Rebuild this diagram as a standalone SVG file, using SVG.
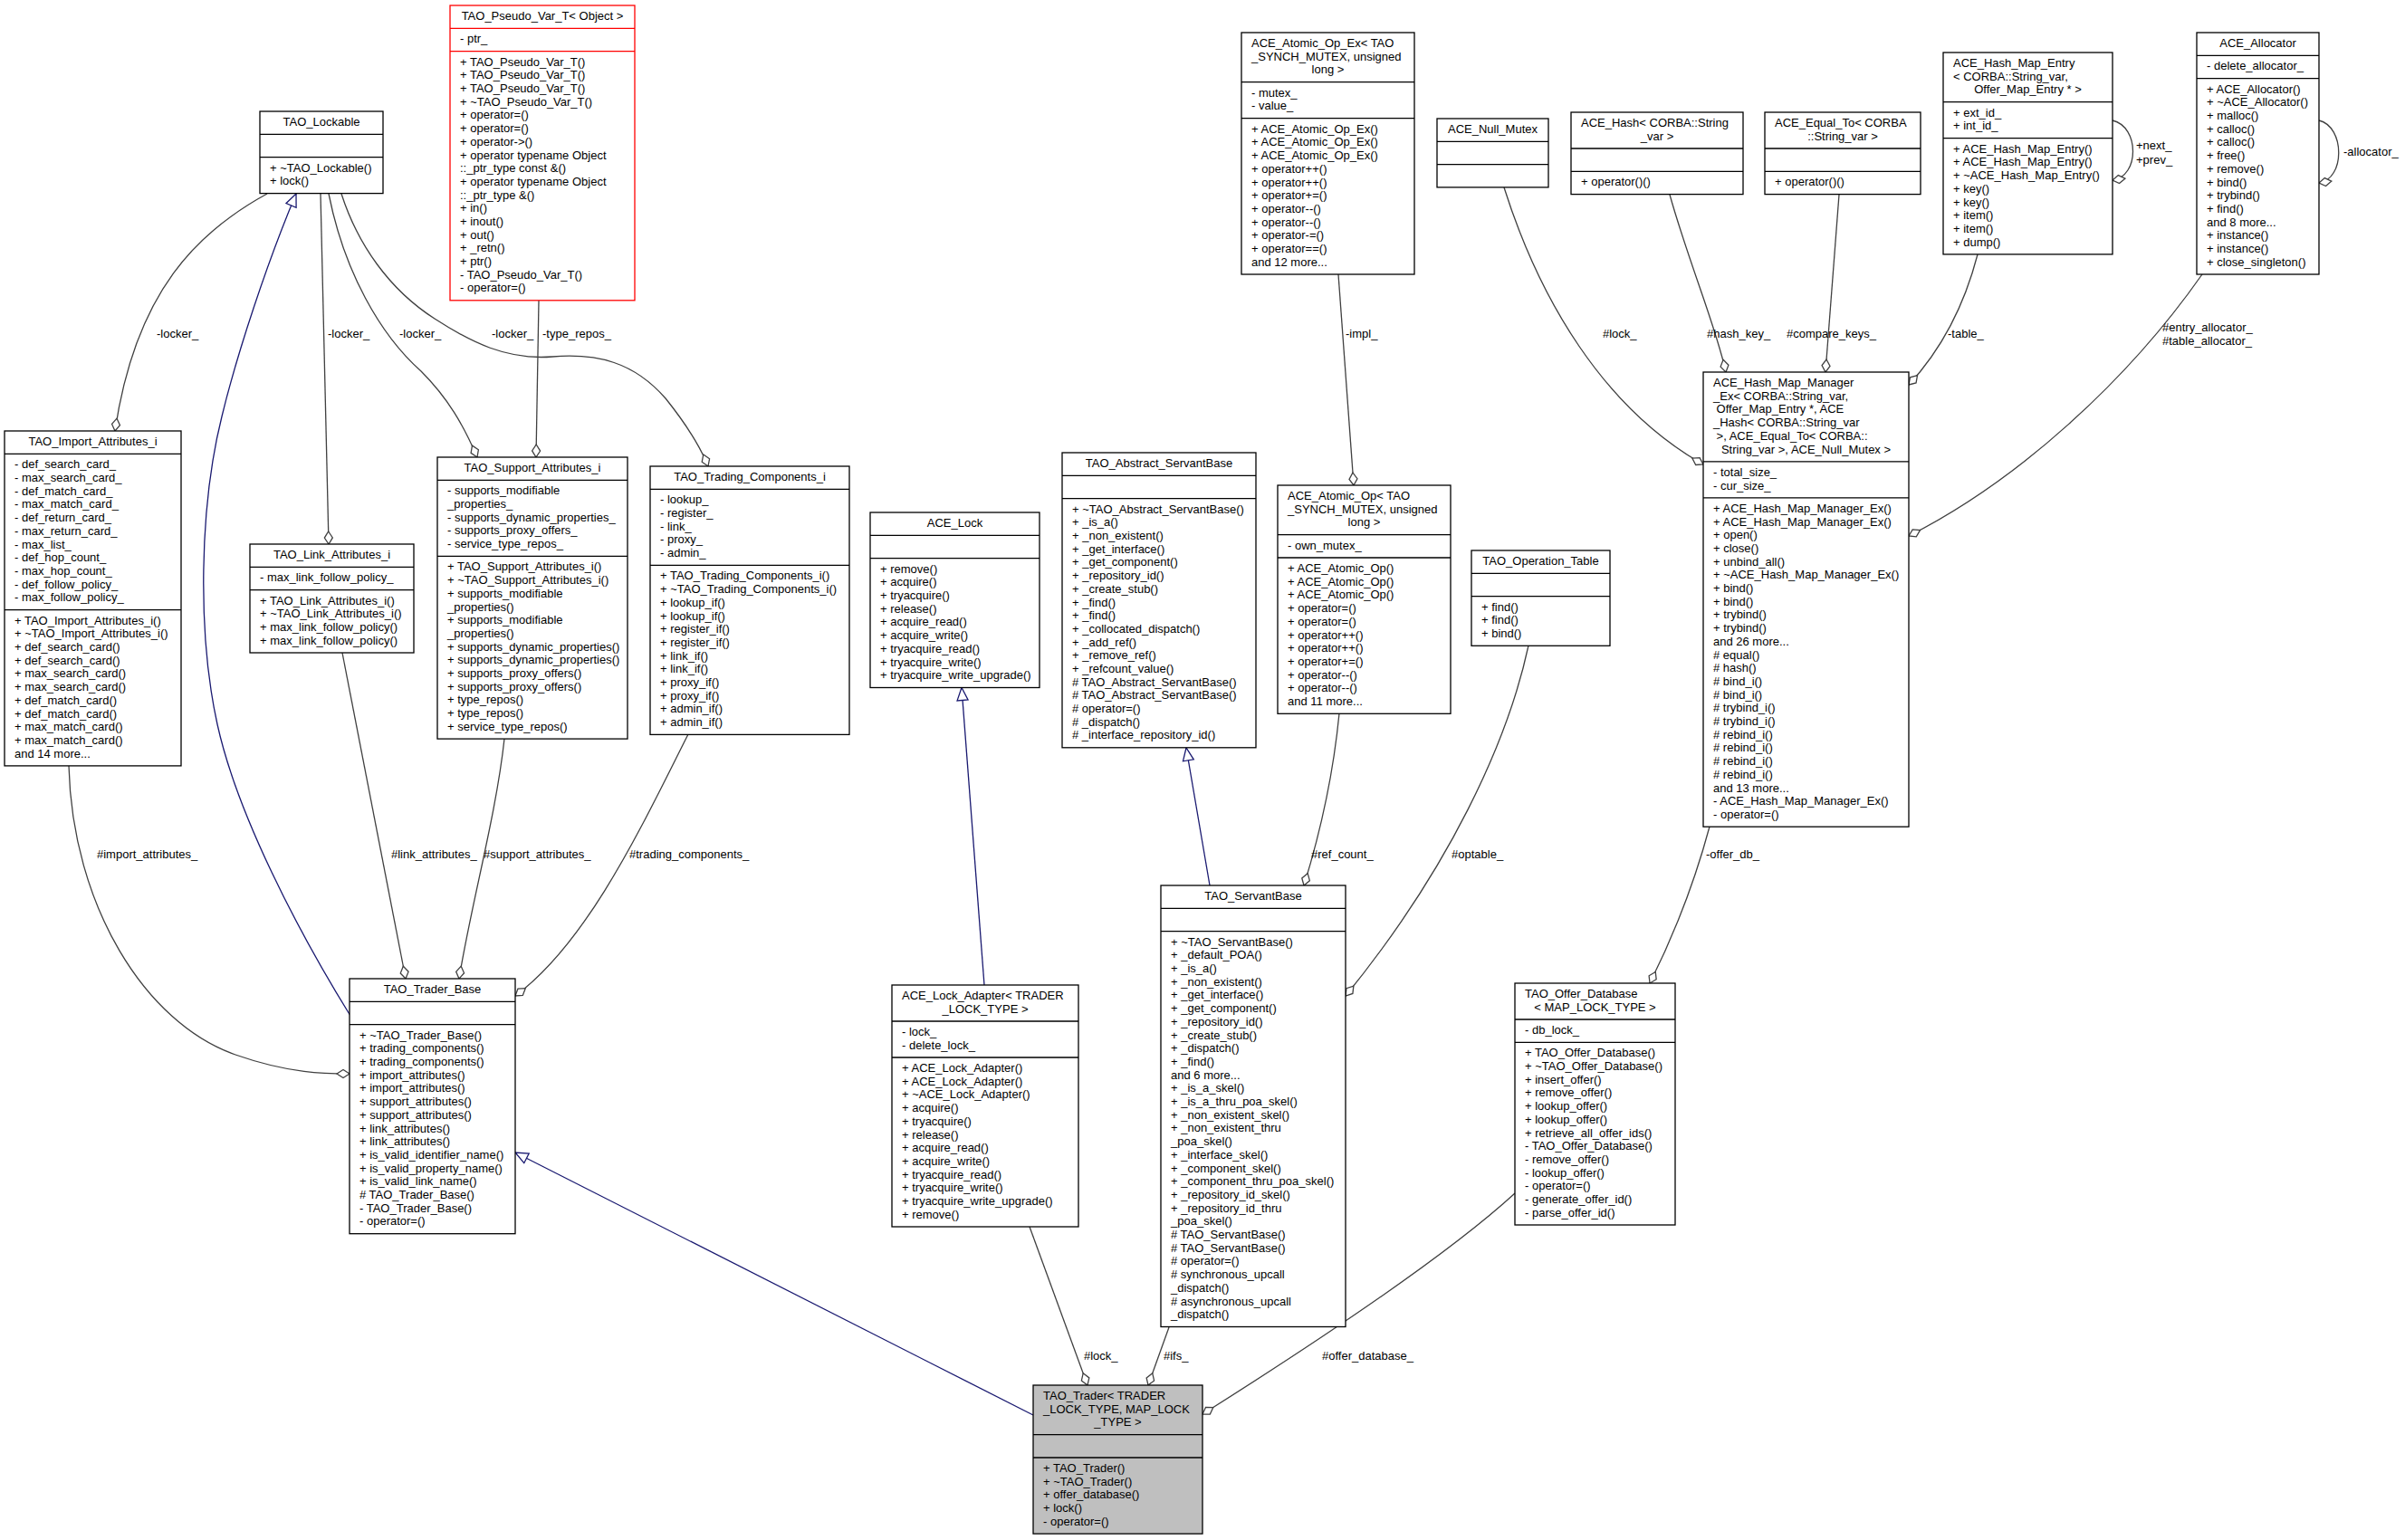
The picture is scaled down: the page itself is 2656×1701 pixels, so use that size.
<svg xmlns="http://www.w3.org/2000/svg" width="2656" height="1701" viewBox="0 0 2656 1701">
<style>
.b{fill:#fff;stroke:#000;stroke-width:1.3}
.r{fill:#fff;stroke:#ff0000;stroke-width:1.3}
.g{fill:#bfbfbf;stroke:#000;stroke-width:1.3}
.d{fill:none;stroke:#000;stroke-width:1.3}
.dr{fill:none;stroke:#ff0000;stroke-width:1.3}
text{font-family:"Liberation Sans",Arial,sans-serif;font-size:13px;fill:#000}
.c{text-anchor:middle}
.e{fill:none;stroke:#404040;stroke-width:1.3;marker-end:url(#dia)}
.i{fill:none;stroke:#191970;stroke-width:1.3;marker-end:url(#tri)}
</style>
<defs>
<marker id="dia" markerUnits="userSpaceOnUse" viewBox="-1 -6 16 12" markerWidth="16" markerHeight="12" refX="14" refY="0" orient="auto" overflow="visible"><path d="M0,0L7,-4.5L14,0L7,4.5Z" fill="#fff" stroke="#404040" stroke-width="1.3"/></marker>
<marker id="tri" markerUnits="userSpaceOnUse" viewBox="-1 -7 16 14" markerWidth="16" markerHeight="14" refX="14" refY="0" orient="auto" overflow="visible"><path d="M0,-6L14,0L0,6Z" fill="#fff" stroke="#191970" stroke-width="1.3"/></marker>
</defs>
<rect width="2656" height="1701" fill="#fff"/>

<g id="edges">
<path class="e" d="M295,214C220,255 150,320 127,476"/>
<path class="i" d="M387,1122C330,1030 262,900 240,800C218,700 220,560 245,460C262,390 295,290 327,214"/>
<path class="e" d="M354,214L363,601"/>
<path class="e" d="M363,214C380,300 420,370 465,410C495,440 512,470 527,505"/>
<path class="e" d="M377,214C395,270 430,320 480,352C520,378 560,398 610,394C660,390 700,400 735,440C755,465 772,490 782,515"/>
<path class="e" d="M595,332L592,505"/>
<path class="e" d="M76,846C80,1000 160,1130 260,1165C320,1186 360,1186 386,1186"/>
<path class="e" d="M378,721L448,1081"/>
<path class="e" d="M557,816C548,900 520,1000 507,1081"/>
<path class="e" d="M760,811C710,910 650,1040 569,1100"/>
<path class="i" d="M1141,1563L569,1273"/>
<path class="i" d="M1087,1088L1062,759.5"/>
<path class="e" d="M1137,1355L1201,1530"/>
<path class="e" d="M1291,1466L1268,1530"/>
<path class="i" d="M1336,978L1310,826"/>
<path class="e" d="M1478,303L1495,536"/>
<path class="e" d="M1479,788C1472,860 1458,920 1440,978"/>
<path class="e" d="M1688,713C1665,820 1600,960 1486,1100"/>
<path class="e" d="M1661,207C1700,330 1770,450 1881,513"/>
<path class="e" d="M1844,215C1865,290 1895,360 1906,411"/>
<path class="e" d="M2031,215L2016,411"/>
<path class="e" d="M2184,281C2170,335 2145,385 2108,425"/>
<path class="e" d="M2432,303C2350,420 2230,530 2108,592"/>
<path class="e" d="M1888,913C1870,980 1845,1040 1822,1086"/>
<path class="e" d="M1673,1318C1600,1385 1450,1485 1328,1562"/>
<path class="e" d="M2333,133C2363,140 2363,195 2333,199"/>
<path class="e" d="M2561,133C2590,140 2590,198 2561,202"/>
<text x="173" y="373">-locker_</text>
<text x="362" y="373">-locker_</text>
<text x="441" y="373">-locker_</text>
<text x="543" y="373">-locker_</text>
<text x="599" y="373">-type_repos_</text>
<text x="1486" y="373">-impl_</text>
<text x="1770" y="373">#lock_</text>
<text x="1885" y="373">#hash_key_</text>
<text x="1973" y="373">#compare_keys_</text>
<text x="2151" y="373">-table_</text>
<text x="2388" y="366">#entry_allocator_</text>
<text x="2388" y="381">#table_allocator_</text>
<text x="107" y="948">#import_attributes_</text>
<text x="432" y="948">#link_attributes_</text>
<text x="534" y="948">#support_attributes_</text>
<text x="695" y="948">#trading_components_</text>
<text x="1448" y="948">#ref_count_</text>
<text x="1603" y="948">#optable_</text>
<text x="1884" y="948">-offer_db_</text>
<text x="1197" y="1502">#lock_</text>
<text x="1285" y="1502">#ifs_</text>
<text x="1460" y="1502">#offer_database_</text>
<text x="2359" y="165">+next_</text>
<text x="2359" y="181">+prev_</text>
<text x="2588" y="172">-allocator_</text>
</g>

<g id="TAO_Pseudo_Var_T">
<rect class="r" x="497" y="6" width="204" height="325.8"/>
<path class="dr" d="M497,31.3H701M497,56.6H701"/>
<text class="c" x="599" y="22">TAO_Pseudo_Var_T&lt; Object &gt;</text>
<text x="508" y="47.3">- ptr_</text>
<text y="72.6"><tspan x="508">+ TAO_Pseudo_Var_T()</tspan><tspan x="508" dy="14.7">+ TAO_Pseudo_Var_T()</tspan><tspan x="508" dy="14.7">+ TAO_Pseudo_Var_T()</tspan><tspan x="508" dy="14.7">+ ~TAO_Pseudo_Var_T()</tspan><tspan x="508" dy="14.7">+ operator=()</tspan><tspan x="508" dy="14.7">+ operator=()</tspan><tspan x="508" dy="14.7">+ operator-&gt;()</tspan><tspan x="508" dy="14.7">+ operator typename Object</tspan><tspan x="508" dy="14.7">::_ptr_type const &amp;()</tspan><tspan x="508" dy="14.7">+ operator typename Object</tspan><tspan x="508" dy="14.7">::_ptr_type &amp;()</tspan><tspan x="508" dy="14.7">+ in()</tspan><tspan x="508" dy="14.7">+ inout()</tspan><tspan x="508" dy="14.7">+ out()</tspan><tspan x="508" dy="14.7">+ _retn()</tspan><tspan x="508" dy="14.7">+ ptr()</tspan><tspan x="508" dy="14.7">- TAO_Pseudo_Var_T()</tspan><tspan x="508" dy="14.7">- operator=()</tspan></text>
</g>

<g id="TAO_Lockable">
<rect class="b" x="287" y="123" width="136" height="90.6"/>
<path class="d" d="M287,148.3H423M287,173.6H423"/>
<text class="c" x="355" y="139">TAO_Lockable</text>
<text y="189.6"><tspan x="298">+ ~TAO_Lockable()</tspan><tspan x="298" dy="14.7">+ lock()</tspan></text>
</g>

<g id="TAO_Import_Attributes_i">
<rect class="b" x="5" y="476" width="195" height="369.9"/>
<path class="d" d="M5,501.3H200M5,673.6H200"/>
<text class="c" x="102.5" y="492">TAO_Import_Attributes_i</text>
<text y="517.3"><tspan x="16">- def_search_card_</tspan><tspan x="16" dy="14.7">- max_search_card_</tspan><tspan x="16" dy="14.7">- def_match_card_</tspan><tspan x="16" dy="14.7">- max_match_card_</tspan><tspan x="16" dy="14.7">- def_return_card_</tspan><tspan x="16" dy="14.7">- max_return_card_</tspan><tspan x="16" dy="14.7">- max_list_</tspan><tspan x="16" dy="14.7">- def_hop_count_</tspan><tspan x="16" dy="14.7">- max_hop_count_</tspan><tspan x="16" dy="14.7">- def_follow_policy_</tspan><tspan x="16" dy="14.7">- max_follow_policy_</tspan></text>
<text y="689.6"><tspan x="16">+ TAO_Import_Attributes_i()</tspan><tspan x="16" dy="14.7">+ ~TAO_Import_Attributes_i()</tspan><tspan x="16" dy="14.7">+ def_search_card()</tspan><tspan x="16" dy="14.7">+ def_search_card()</tspan><tspan x="16" dy="14.7">+ max_search_card()</tspan><tspan x="16" dy="14.7">+ max_search_card()</tspan><tspan x="16" dy="14.7">+ def_match_card()</tspan><tspan x="16" dy="14.7">+ def_match_card()</tspan><tspan x="16" dy="14.7">+ max_match_card()</tspan><tspan x="16" dy="14.7">+ max_match_card()</tspan><tspan x="16" dy="14.7">and 14 more...</tspan></text>
</g>

<g id="TAO_Link_Attributes_i">
<rect class="b" x="276" y="601" width="181" height="120"/>
<path class="d" d="M276,626.3H457M276,651.6H457"/>
<text class="c" x="366.5" y="617">TAO_Link_Attributes_i</text>
<text x="287" y="642.3">- max_link_follow_policy_</text>
<text y="667.6"><tspan x="287">+ TAO_Link_Attributes_i()</tspan><tspan x="287" dy="14.7">+ ~TAO_Link_Attributes_i()</tspan><tspan x="287" dy="14.7">+ max_link_follow_policy()</tspan><tspan x="287" dy="14.7">+ max_link_follow_policy()</tspan></text>
</g>

<g id="TAO_Support_Attributes_i">
<rect class="b" x="483" y="505" width="210" height="311.1"/>
<path class="d" d="M483,530.3H693M483,614.4H693"/>
<text class="c" x="588" y="521">TAO_Support_Attributes_i</text>
<text y="546.3"><tspan x="494">- supports_modifiable</tspan><tspan x="494" dy="14.7">_properties_</tspan><tspan x="494" dy="14.7">- supports_dynamic_properties_</tspan><tspan x="494" dy="14.7">- supports_proxy_offers_</tspan><tspan x="494" dy="14.7">- service_type_repos_</tspan></text>
<text y="630.4"><tspan x="494">+ TAO_Support_Attributes_i()</tspan><tspan x="494" dy="14.7">+ ~TAO_Support_Attributes_i()</tspan><tspan x="494" dy="14.7">+ supports_modifiable</tspan><tspan x="494" dy="14.7">_properties()</tspan><tspan x="494" dy="14.7">+ supports_modifiable</tspan><tspan x="494" dy="14.7">_properties()</tspan><tspan x="494" dy="14.7">+ supports_dynamic_properties()</tspan><tspan x="494" dy="14.7">+ supports_dynamic_properties()</tspan><tspan x="494" dy="14.7">+ supports_proxy_offers()</tspan><tspan x="494" dy="14.7">+ supports_proxy_offers()</tspan><tspan x="494" dy="14.7">+ type_repos()</tspan><tspan x="494" dy="14.7">+ type_repos()</tspan><tspan x="494" dy="14.7">+ service_type_repos()</tspan></text>
</g>

<g id="TAO_Trading_Components_i">
<rect class="b" x="718" y="515" width="220" height="296.4"/>
<path class="d" d="M718,540.3H938M718,624.4H938"/>
<text class="c" x="828" y="531">TAO_Trading_Components_i</text>
<text y="556.3"><tspan x="729">- lookup_</tspan><tspan x="729" dy="14.7">- register_</tspan><tspan x="729" dy="14.7">- link_</tspan><tspan x="729" dy="14.7">- proxy_</tspan><tspan x="729" dy="14.7">- admin_</tspan></text>
<text y="640.4"><tspan x="729">+ TAO_Trading_Components_i()</tspan><tspan x="729" dy="14.7">+ ~TAO_Trading_Components_i()</tspan><tspan x="729" dy="14.7">+ lookup_if()</tspan><tspan x="729" dy="14.7">+ lookup_if()</tspan><tspan x="729" dy="14.7">+ register_if()</tspan><tspan x="729" dy="14.7">+ register_if()</tspan><tspan x="729" dy="14.7">+ link_if()</tspan><tspan x="729" dy="14.7">+ link_if()</tspan><tspan x="729" dy="14.7">+ proxy_if()</tspan><tspan x="729" dy="14.7">+ proxy_if()</tspan><tspan x="729" dy="14.7">+ admin_if()</tspan><tspan x="729" dy="14.7">+ admin_if()</tspan></text>
</g>

<g id="ACE_Lock">
<rect class="b" x="961" y="566" width="187" height="193.5"/>
<path class="d" d="M961,591.3H1148M961,616.6H1148"/>
<text class="c" x="1054.5" y="582">ACE_Lock</text>
<text y="632.6"><tspan x="972">+ remove()</tspan><tspan x="972" dy="14.7">+ acquire()</tspan><tspan x="972" dy="14.7">+ tryacquire()</tspan><tspan x="972" dy="14.7">+ release()</tspan><tspan x="972" dy="14.7">+ acquire_read()</tspan><tspan x="972" dy="14.7">+ acquire_write()</tspan><tspan x="972" dy="14.7">+ tryacquire_read()</tspan><tspan x="972" dy="14.7">+ tryacquire_write()</tspan><tspan x="972" dy="14.7">+ tryacquire_write_upgrade()</tspan></text>
</g>

<g id="TAO_Abstract_ServantBase">
<rect class="b" x="1173" y="500" width="214" height="325.8"/>
<path class="d" d="M1173,525.3H1387M1173,550.6H1387"/>
<text class="c" x="1280" y="516">TAO_Abstract_ServantBase</text>
<text y="566.6"><tspan x="1184">+ ~TAO_Abstract_ServantBase()</tspan><tspan x="1184" dy="14.7">+ _is_a()</tspan><tspan x="1184" dy="14.7">+ _non_existent()</tspan><tspan x="1184" dy="14.7">+ _get_interface()</tspan><tspan x="1184" dy="14.7">+ _get_component()</tspan><tspan x="1184" dy="14.7">+ _repository_id()</tspan><tspan x="1184" dy="14.7">+ _create_stub()</tspan><tspan x="1184" dy="14.7">+ _find()</tspan><tspan x="1184" dy="14.7">+ _find()</tspan><tspan x="1184" dy="14.7">+ _collocated_dispatch()</tspan><tspan x="1184" dy="14.7">+ _add_ref()</tspan><tspan x="1184" dy="14.7">+ _remove_ref()</tspan><tspan x="1184" dy="14.7">+ _refcount_value()</tspan><tspan x="1184" dy="14.7"># TAO_Abstract_ServantBase()</tspan><tspan x="1184" dy="14.7"># TAO_Abstract_ServantBase()</tspan><tspan x="1184" dy="14.7"># operator=()</tspan><tspan x="1184" dy="14.7"># _dispatch()</tspan><tspan x="1184" dy="14.7"># _interface_repository_id()</tspan></text>
</g>

<g id="ACE_Atomic_Op_Ex">
<rect class="b" x="1371" y="36" width="191" height="267"/>
<path class="d" d="M1371,90.7H1562M1371,130.7H1562"/>
<text y="52"><tspan x="1382">ACE_Atomic_Op_Ex&lt; TAO</tspan><tspan x="1382" dy="14.7">_SYNCH_MUTEX, unsigned</tspan></text>
<text class="c" x="1466.5" y="81.4">long &gt;</text>
<text y="106.7"><tspan x="1382">- mutex_</tspan><tspan x="1382" dy="14.7">- value_</tspan></text>
<text y="146.7"><tspan x="1382">+ ACE_Atomic_Op_Ex()</tspan><tspan x="1382" dy="14.7">+ ACE_Atomic_Op_Ex()</tspan><tspan x="1382" dy="14.7">+ ACE_Atomic_Op_Ex()</tspan><tspan x="1382" dy="14.7">+ operator++()</tspan><tspan x="1382" dy="14.7">+ operator++()</tspan><tspan x="1382" dy="14.7">+ operator+=()</tspan><tspan x="1382" dy="14.7">+ operator--()</tspan><tspan x="1382" dy="14.7">+ operator--()</tspan><tspan x="1382" dy="14.7">+ operator-=()</tspan><tspan x="1382" dy="14.7">+ operator==()</tspan><tspan x="1382" dy="14.7">and 12 more...</tspan></text>
</g>

<g id="ACE_Atomic_Op">
<rect class="b" x="1411" y="536" width="191" height="252.3"/>
<path class="d" d="M1411,590.7H1602M1411,616H1602"/>
<text y="552"><tspan x="1422">ACE_Atomic_Op&lt; TAO</tspan><tspan x="1422" dy="14.7">_SYNCH_MUTEX, unsigned</tspan></text>
<text class="c" x="1506.5" y="581.4">long &gt;</text>
<text x="1422" y="606.7">- own_mutex_</text>
<text y="632"><tspan x="1422">+ ACE_Atomic_Op()</tspan><tspan x="1422" dy="14.7">+ ACE_Atomic_Op()</tspan><tspan x="1422" dy="14.7">+ ACE_Atomic_Op()</tspan><tspan x="1422" dy="14.7">+ operator=()</tspan><tspan x="1422" dy="14.7">+ operator=()</tspan><tspan x="1422" dy="14.7">+ operator++()</tspan><tspan x="1422" dy="14.7">+ operator++()</tspan><tspan x="1422" dy="14.7">+ operator+=()</tspan><tspan x="1422" dy="14.7">+ operator--()</tspan><tspan x="1422" dy="14.7">+ operator--()</tspan><tspan x="1422" dy="14.7">and 11 more...</tspan></text>
</g>

<g id="ACE_Null_Mutex">
<rect class="b" x="1587" y="131" width="123" height="75.9"/>
<path class="d" d="M1587,156.3H1710M1587,181.6H1710"/>
<text class="c" x="1648.5" y="147">ACE_Null_Mutex</text>
</g>

<g id="ACE_Hash">
<rect class="b" x="1735" y="124" width="190" height="90.6"/>
<path class="d" d="M1735,164H1925M1735,189.3H1925"/>
<text x="1746" y="140">ACE_Hash&lt; CORBA::String</text>
<text class="c" x="1830" y="154.7">_var &gt;</text>
<text x="1746" y="205.3">+ operator()()</text>
</g>

<g id="ACE_Equal_To">
<rect class="b" x="1949" y="124" width="172" height="90.6"/>
<path class="d" d="M1949,164H2121M1949,189.3H2121"/>
<text x="1960" y="140">ACE_Equal_To&lt; CORBA</text>
<text class="c" x="2035" y="154.7">::String_var &gt;</text>
<text x="1960" y="205.3">+ operator()()</text>
</g>

<g id="ACE_Hash_Map_Entry">
<rect class="b" x="2146" y="58" width="187" height="222.9"/>
<path class="d" d="M2146,112.7H2333M2146,152.7H2333"/>
<text y="74"><tspan x="2157">ACE_Hash_Map_Entry</tspan><tspan x="2157" dy="14.7">&lt; CORBA::String_var,</tspan></text>
<text class="c" x="2239.5" y="103.4">Offer_Map_Entry * &gt;</text>
<text y="128.7"><tspan x="2157">+ ext_id_</tspan><tspan x="2157" dy="14.7">+ int_id_</tspan></text>
<text y="168.7"><tspan x="2157">+ ACE_Hash_Map_Entry()</tspan><tspan x="2157" dy="14.7">+ ACE_Hash_Map_Entry()</tspan><tspan x="2157" dy="14.7">+ ~ACE_Hash_Map_Entry()</tspan><tspan x="2157" dy="14.7">+ key()</tspan><tspan x="2157" dy="14.7">+ key()</tspan><tspan x="2157" dy="14.7">+ item()</tspan><tspan x="2157" dy="14.7">+ item()</tspan><tspan x="2157" dy="14.7">+ dump()</tspan></text>
</g>

<g id="ACE_Allocator">
<rect class="b" x="2426" y="36" width="135" height="267"/>
<path class="d" d="M2426,61.3H2561M2426,86.6H2561"/>
<text class="c" x="2493.5" y="52">ACE_Allocator</text>
<text x="2437" y="77.3">- delete_allocator_</text>
<text y="102.6"><tspan x="2437">+ ACE_Allocator()</tspan><tspan x="2437" dy="14.7">+ ~ACE_Allocator()</tspan><tspan x="2437" dy="14.7">+ malloc()</tspan><tspan x="2437" dy="14.7">+ calloc()</tspan><tspan x="2437" dy="14.7">+ calloc()</tspan><tspan x="2437" dy="14.7">+ free()</tspan><tspan x="2437" dy="14.7">+ remove()</tspan><tspan x="2437" dy="14.7">+ bind()</tspan><tspan x="2437" dy="14.7">+ trybind()</tspan><tspan x="2437" dy="14.7">+ find()</tspan><tspan x="2437" dy="14.7">and 8 more...</tspan><tspan x="2437" dy="14.7">+ instance()</tspan><tspan x="2437" dy="14.7">+ instance()</tspan><tspan x="2437" dy="14.7">+ close_singleton()</tspan></text>
</g>

<g id="ACE_Hash_Map_Manager_Ex">
<rect class="b" x="1881" y="411" width="227" height="502.2"/>
<path class="d" d="M1881,509.8H2108M1881,549.8H2108"/>
<text y="427"><tspan x="1892">ACE_Hash_Map_Manager</tspan><tspan x="1892" dy="14.7">_Ex&lt; CORBA::String_var,</tspan><tspan x="1895.6" dy="14.7">Offer_Map_Entry *, ACE</tspan><tspan x="1892" dy="14.7">_Hash&lt; CORBA::String_var</tspan><tspan x="1895.6" dy="14.7">&gt;, ACE_Equal_To&lt; CORBA::</tspan></text>
<text class="c" x="1994.5" y="500.5">String_var &gt;, ACE_Null_Mutex &gt;</text>
<text y="525.8"><tspan x="1892">- total_size_</tspan><tspan x="1892" dy="14.7">- cur_size_</tspan></text>
<text y="565.8"><tspan x="1892">+ ACE_Hash_Map_Manager_Ex()</tspan><tspan x="1892" dy="14.7">+ ACE_Hash_Map_Manager_Ex()</tspan><tspan x="1892" dy="14.7">+ open()</tspan><tspan x="1892" dy="14.7">+ close()</tspan><tspan x="1892" dy="14.7">+ unbind_all()</tspan><tspan x="1892" dy="14.7">+ ~ACE_Hash_Map_Manager_Ex()</tspan><tspan x="1892" dy="14.7">+ bind()</tspan><tspan x="1892" dy="14.7">+ bind()</tspan><tspan x="1892" dy="14.7">+ trybind()</tspan><tspan x="1892" dy="14.7">+ trybind()</tspan><tspan x="1892" dy="14.7">and 26 more...</tspan><tspan x="1892" dy="14.7"># equal()</tspan><tspan x="1892" dy="14.7"># hash()</tspan><tspan x="1892" dy="14.7"># bind_i()</tspan><tspan x="1892" dy="14.7"># bind_i()</tspan><tspan x="1892" dy="14.7"># trybind_i()</tspan><tspan x="1892" dy="14.7"># trybind_i()</tspan><tspan x="1892" dy="14.7"># rebind_i()</tspan><tspan x="1892" dy="14.7"># rebind_i()</tspan><tspan x="1892" dy="14.7"># rebind_i()</tspan><tspan x="1892" dy="14.7"># rebind_i()</tspan><tspan x="1892" dy="14.7">and 13 more...</tspan><tspan x="1892" dy="14.7">- ACE_Hash_Map_Manager_Ex()</tspan><tspan x="1892" dy="14.7">- operator=()</tspan></text>
</g>

<g id="TAO_Operation_Table">
<rect class="b" x="1625" y="608" width="153" height="105.3"/>
<path class="d" d="M1625,633.3H1778M1625,658.6H1778"/>
<text class="c" x="1701.5" y="624">TAO_Operation_Table</text>
<text y="674.6"><tspan x="1636">+ find()</tspan><tspan x="1636" dy="14.7">+ find()</tspan><tspan x="1636" dy="14.7">+ bind()</tspan></text>
</g>

<g id="TAO_ServantBase">
<rect class="b" x="1282" y="978" width="204" height="487.5"/>
<path class="d" d="M1282,1003.3H1486M1282,1028.6H1486"/>
<text class="c" x="1384" y="994">TAO_ServantBase</text>
<text y="1044.6"><tspan x="1293">+ ~TAO_ServantBase()</tspan><tspan x="1293" dy="14.7">+ _default_POA()</tspan><tspan x="1293" dy="14.7">+ _is_a()</tspan><tspan x="1293" dy="14.7">+ _non_existent()</tspan><tspan x="1293" dy="14.7">+ _get_interface()</tspan><tspan x="1293" dy="14.7">+ _get_component()</tspan><tspan x="1293" dy="14.7">+ _repository_id()</tspan><tspan x="1293" dy="14.7">+ _create_stub()</tspan><tspan x="1293" dy="14.7">+ _dispatch()</tspan><tspan x="1293" dy="14.7">+ _find()</tspan><tspan x="1293" dy="14.7">and 6 more...</tspan><tspan x="1293" dy="14.7">+ _is_a_skel()</tspan><tspan x="1293" dy="14.7">+ _is_a_thru_poa_skel()</tspan><tspan x="1293" dy="14.7">+ _non_existent_skel()</tspan><tspan x="1293" dy="14.7">+ _non_existent_thru</tspan><tspan x="1293" dy="14.7">_poa_skel()</tspan><tspan x="1293" dy="14.7">+ _interface_skel()</tspan><tspan x="1293" dy="14.7">+ _component_skel()</tspan><tspan x="1293" dy="14.7">+ _component_thru_poa_skel()</tspan><tspan x="1293" dy="14.7">+ _repository_id_skel()</tspan><tspan x="1293" dy="14.7">+ _repository_id_thru</tspan><tspan x="1293" dy="14.7">_poa_skel()</tspan><tspan x="1293" dy="14.7"># TAO_ServantBase()</tspan><tspan x="1293" dy="14.7"># TAO_ServantBase()</tspan><tspan x="1293" dy="14.7"># operator=()</tspan><tspan x="1293" dy="14.7"># synchronous_upcall</tspan><tspan x="1293" dy="14.7">_dispatch()</tspan><tspan x="1293" dy="14.7"># asynchronous_upcall</tspan><tspan x="1293" dy="14.7">_dispatch()</tspan></text>
</g>

<g id="TAO_Offer_Database">
<rect class="b" x="1673" y="1086" width="177" height="267"/>
<path class="d" d="M1673,1126H1850M1673,1151.3H1850"/>
<text x="1684" y="1102">TAO_Offer_Database</text>
<text class="c" x="1761.5" y="1116.7">&lt; MAP_LOCK_TYPE &gt;</text>
<text x="1684" y="1142">- db_lock_</text>
<text y="1167.3"><tspan x="1684">+ TAO_Offer_Database()</tspan><tspan x="1684" dy="14.7">+ ~TAO_Offer_Database()</tspan><tspan x="1684" dy="14.7">+ insert_offer()</tspan><tspan x="1684" dy="14.7">+ remove_offer()</tspan><tspan x="1684" dy="14.7">+ lookup_offer()</tspan><tspan x="1684" dy="14.7">+ lookup_offer()</tspan><tspan x="1684" dy="14.7">+ retrieve_all_offer_ids()</tspan><tspan x="1684" dy="14.7">- TAO_Offer_Database()</tspan><tspan x="1684" dy="14.7">- remove_offer()</tspan><tspan x="1684" dy="14.7">- lookup_offer()</tspan><tspan x="1684" dy="14.7">- operator=()</tspan><tspan x="1684" dy="14.7">- generate_offer_id()</tspan><tspan x="1684" dy="14.7">- parse_offer_id()</tspan></text>
</g>

<g id="TAO_Trader_Base">
<rect class="b" x="386" y="1081" width="183" height="281.7"/>
<path class="d" d="M386,1106.3H569M386,1131.6H569"/>
<text class="c" x="477.5" y="1097">TAO_Trader_Base</text>
<text y="1147.6"><tspan x="397">+ ~TAO_Trader_Base()</tspan><tspan x="397" dy="14.7">+ trading_components()</tspan><tspan x="397" dy="14.7">+ trading_components()</tspan><tspan x="397" dy="14.7">+ import_attributes()</tspan><tspan x="397" dy="14.7">+ import_attributes()</tspan><tspan x="397" dy="14.7">+ support_attributes()</tspan><tspan x="397" dy="14.7">+ support_attributes()</tspan><tspan x="397" dy="14.7">+ link_attributes()</tspan><tspan x="397" dy="14.7">+ link_attributes()</tspan><tspan x="397" dy="14.7">+ is_valid_identifier_name()</tspan><tspan x="397" dy="14.7">+ is_valid_property_name()</tspan><tspan x="397" dy="14.7">+ is_valid_link_name()</tspan><tspan x="397" dy="14.7"># TAO_Trader_Base()</tspan><tspan x="397" dy="14.7">- TAO_Trader_Base()</tspan><tspan x="397" dy="14.7">- operator=()</tspan></text>
</g>

<g id="ACE_Lock_Adapter">
<rect class="b" x="985" y="1088" width="206" height="267"/>
<path class="d" d="M985,1128H1191M985,1168H1191"/>
<text x="996" y="1104">ACE_Lock_Adapter&lt; TRADER</text>
<text class="c" x="1088" y="1118.7">_LOCK_TYPE &gt;</text>
<text y="1144"><tspan x="996">- lock_</tspan><tspan x="996" dy="14.7">- delete_lock_</tspan></text>
<text y="1184"><tspan x="996">+ ACE_Lock_Adapter()</tspan><tspan x="996" dy="14.7">+ ACE_Lock_Adapter()</tspan><tspan x="996" dy="14.7">+ ~ACE_Lock_Adapter()</tspan><tspan x="996" dy="14.7">+ acquire()</tspan><tspan x="996" dy="14.7">+ tryacquire()</tspan><tspan x="996" dy="14.7">+ release()</tspan><tspan x="996" dy="14.7">+ acquire_read()</tspan><tspan x="996" dy="14.7">+ acquire_write()</tspan><tspan x="996" dy="14.7">+ tryacquire_read()</tspan><tspan x="996" dy="14.7">+ tryacquire_write()</tspan><tspan x="996" dy="14.7">+ tryacquire_write_upgrade()</tspan><tspan x="996" dy="14.7">+ remove()</tspan></text>
</g>

<g id="TAO_Trader">
<rect class="g" x="1141" y="1530" width="187" height="164.1"/>
<path class="d" d="M1141,1584.7H1328M1141,1610H1328"/>
<text y="1546"><tspan x="1152">TAO_Trader&lt; TRADER</tspan><tspan x="1152" dy="14.7">_LOCK_TYPE, MAP_LOCK</tspan></text>
<text class="c" x="1234.5" y="1575.4">_TYPE &gt;</text>
<text y="1626"><tspan x="1152">+ TAO_Trader()</tspan><tspan x="1152" dy="14.7">+ ~TAO_Trader()</tspan><tspan x="1152" dy="14.7">+ offer_database()</tspan><tspan x="1152" dy="14.7">+ lock()</tspan><tspan x="1152" dy="14.7">- operator=()</tspan></text>
</g>
</svg>
